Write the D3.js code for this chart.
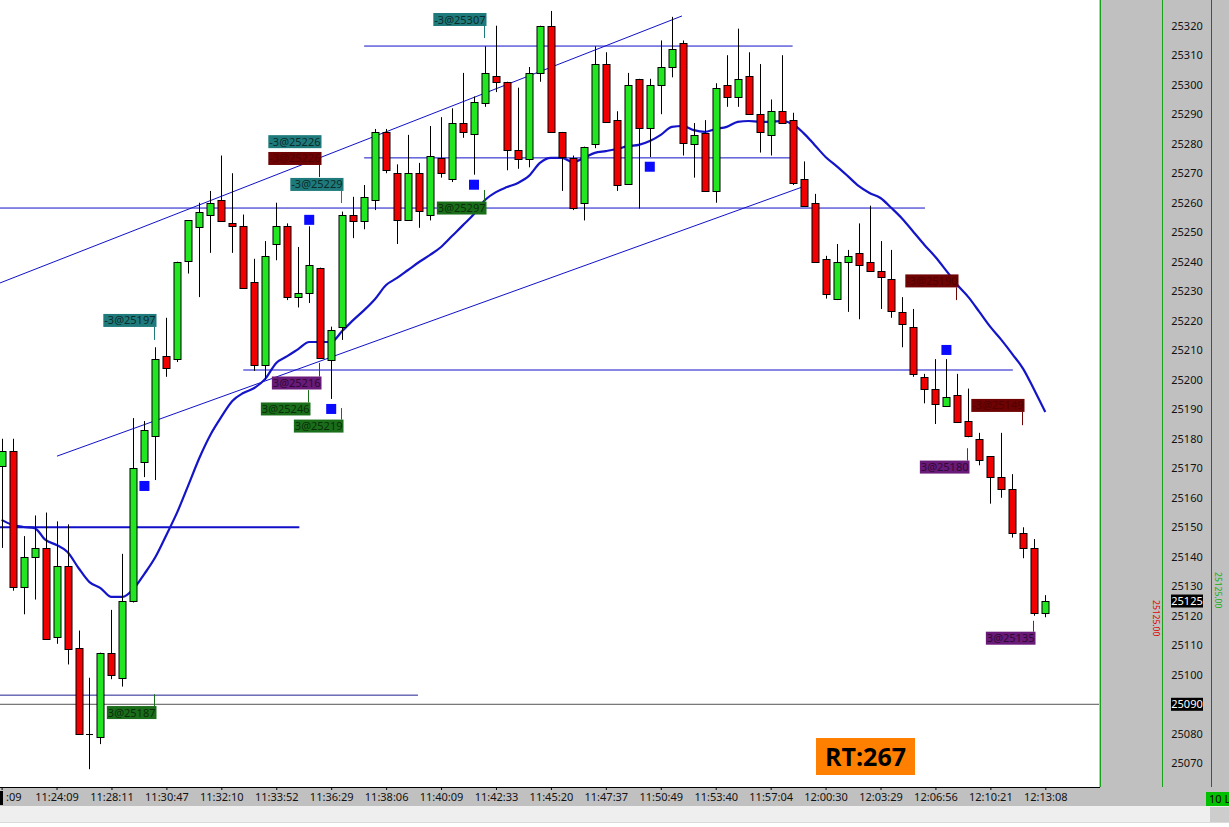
<!DOCTYPE html>
<html><head><meta charset="utf-8">
<script src="https://cdn.jsdelivr.net/npm/d3@7"></script>
<style>
html,body{margin:0;padding:0;background:#fff;overflow:hidden}
svg{display:block}
text{font-family:"Noto Sans","Liberation Sans",sans-serif}
</style></head><body>
<svg id="c" width="1229" height="827"></svg>
<script>
// ---------- DATA ----------
const timeLabels = ["11:22:09","11:24:09","11:28:11","11:30:47","11:32:10","11:33:52","11:36:29","11:38:06","11:40:09","11:42:33","11:45:20","11:47:37","11:50:49","11:53:40","11:57:04","12:00:30","12:03:29","12:06:56","12:10:21","12:13:08"];
const opens  = [25171,25176,25130,25140,25143,25113,25137,25109,25080,25079,25107.5,25099,25125,25172,25181,25208,25207,25240,25252,25256,25261,25253,25252,25233,25205,25246,25252,25228,25229.5,25238,25207,25218,25256,25254,25261,25284,25270,25254,25270,25256,25275,25268,25287,25283,25294,25303,25301,25278,25275,25304,25320,25284,25275,25260,25280,25307,25288,25266.5,25302,25285.5,25300,25306,25314,25280,25283.5,25264,25300,25296,25303,25290,25283,25291,25288,25268,25260,25241,25227.5,25240,25243,25240,25237,25234,25223,25218,25201,25197,25191,25195,25186,25180,25174,25167,25163,25148,25143,25121];
const highs  = [25180,25180,25147,25154,25155,25152,25151,25115,25099,25107.5,25122,25141,25187,25186,25211,25221,25240,25254,25260,25264,25276,25270,25256,25241,25247,25260,25253,25245,25252,25238,25218,25257,25262,25266,25285,25285,25273,25283,25273.5,25286,25289,25292,25304,25296,25313,25320,25301,25299,25306,25320,25325,25284,25276,25279,25313,25311,25291,25304,25302,25302,25315,25323,25315,25287,25288,25300.5,25310,25319,25311,25307,25295,25310,25290.5,25274,25263,25242,25246,25244,25253,25259,25247,25244,25228,25224,25202,25207,25207,25202,25197,25182,25174,25182,25168,25150,25146,25127];
const lows   = [25143,25128.5,25120.5,25125.5,25112,25110.5,25103.5,25080,25068,25076.5,25098.5,25096,25124.5,25167,25166,25201,25206,25236,25228,25243,25254,25243,25231,25203,25200,25240.5,25227,25224.5,25226,25207.5,25193.5,25213.5,25248,25251,25257.5,25270,25246,25254,25251.5,25254,25268.5,25267,25282,25269.5,25292.5,25297.5,25271,25271.5,25272,25301,25284,25264,25257.5,25254,25278.5,25287.5,25264,25266.5,25258,25275.5,25290,25302.5,25276,25268.5,25264,25260,25292.5,25292.5,25290,25277,25276,25287,25266,25259,25240,25227.5,25227,25223,25220.5,25236.5,25224,25221,25211,25201,25192,25185,25191,25186,25180.5,25171,25158,25160,25146.5,25139.5,25120,25119.5];
const closes = [25176,25130,25140,25143,25112,25137,25109,25080,25080,25107.5,25100,25125,25170,25183,25207,25204,25240,25254,25257,25260,25254,25252,25231,25205,25242,25252,25228,25229.5,25239,25207.5,25217,25256,25254,25262,25284,25271,25254,25270,25257,25276,25270,25287,25284,25294,25304,25301,25278,25275,25304,25320,25284,25275.5,25258,25279,25307,25287.5,25266,25300,25285.5,25300,25306,25312,25280,25283,25264,25299,25296,25302,25290,25284,25291,25287,25266.7,25259,25240,25229,25240,25242,25239,25237,25235,25223,25219,25202,25197,25192,25194,25186,25181,25173,25167,25163,25148,25143,25121,25125];
const maValues = [25152.5,25150.8,25150.1,25149.7,25145.7,25144.0,25141.6,25136.2,25131.4,25129.4,25126.4,25126.4,25129.1,25134.2,25139.9,25147.4,25155.2,25164.3,25173.5,25181.3,25187.4,25192.8,25195.5,25197.2,25200.3,25205.7,25208.0,25210.4,25212.8,25212.8,25212.8,25216.5,25220.2,25223.6,25227.4,25232.1,25234.5,25237.2,25239.9,25242.3,25245.0,25248.7,25252.4,25256.2,25260.9,25263.6,25265.3,25266.7,25269.1,25273.5,25275.2,25275.2,25273.8,25275.2,25276.9,25277.5,25278.2,25279.2,25279.6,25280.9,25283.0,25285.7,25286.0,25284.6,25284.0,25285.0,25285.7,25287.4,25287.7,25287.4,25287.4,25287.7,25286.7,25283.6,25279.6,25275.5,25272.4,25269.1,25265.7,25263.3,25261.6,25258.2,25254.5,25250.1,25245.7,25241.6,25236.9,25232.1,25228.0,25223.0,25217.9,25213.5,25208.7,25203.6,25196.5,25189.1];
const priceTicks = d3.range(25070, 25321, 10);
const lastPrice = 25125;
const refPrice = 25090;

// horizontal levels: price, start bar, end bar
const levelPrices = [25313.1, 25275.2, 25258.2, 25203.3, 25150, 25093.1];
const levelFrom   = [33, 33, -0.2, 22, -0.2, -0.2];
const levelTo     = [72, 72, 84.05, 92.05, 27.1, 37.9];
// trend lines: [bar, price] endpoints
const trendA = [[-0.15, 25232.8], [61.93, 25323.3]];
const trendB = [[5.04, 25174.1], [72.86, 25265.3]];

// signal squares
const markerBars   = [13, 28, 30, 43, 59, 86];
const markerPrices = [25164.0, 25254.2, 25190.1, 25266.1, 25272.2, 25210.1];

// trade labels
const tradeTexts  = ["-3@25307","-3@25226","-3@25226","-3@25229","3@25297","-3@25197","3@25216","3@25246","3@25219","3@25187","-3@25190","-3@25149","3@25180","3@25135"];
const tradeKinds  = ["sell","sell","stop","sell","buy","sell","cover","buy","buy","buy","stop","stop","cover","cover"];
const tradeBars   = [44, 29, 29, 31, 44, 14, 29, 28, 31, 14, 87, 93, 88, 94];
const tradeBoxPx  = [25322.1, 25280.7, 25275.0, 25266.2, 25258.2, 25220.1, 25198.9, 25190.1, 25184.3, 25087.2, 25233.5, 25191.3, 25170.4, 25112.4];
const tradeTipPx  = [25315.8, null, 25268.7, 25259.9, 25264.3, 25213.5, 25205.7, 25196.5, 25190.4, 25093.4, 25227.0, 25184.6, 25176.8, 25118.3];

// ---------- DRAW ----------
const W = 1229, H = 827, plotR = 1099, plotB = 787;
const svg = d3.select("#c");
const x = d3.scaleLinear().domain([0, 95]).range([1.6, 1045.3]);
const y = d3.scaleLinear().domain([25070, 25320]).range([763.3, 25.7]);

svg.append("rect").attr("width", W).attr("height", H).attr("fill", "#ffffff");
svg.append("defs").append("clipPath").attr("id", "pc")
  .append("rect").attr("x", 0).attr("y", 0).attr("width", plotR).attr("height", plotB);

const g = svg.append("g").attr("clip-path", "url(#pc)");

// reference line across the chart
g.append("line").attr("x1", 0).attr("x2", plotR).attr("y1", y(refPrice)).attr("y2", y(refPrice))
  .attr("stroke", "#555").attr("stroke-width", 1);

// levels
levelPrices.forEach((p, k) => {
  g.append("line")
    .attr("x1", Math.max(0, x(levelFrom[k]))).attr("x2", x(levelTo[k]))
    .attr("y1", y(p)).attr("y2", y(p))
    .attr("stroke", k === 5 ? "#202090" : "#1010c8")
    .attr("stroke-width", k === 4 ? 2 : 1);
});
// trend lines
[trendA, trendB].forEach(t => {
  g.append("line").attr("x1", x(t[0][0])).attr("y1", y(t[0][1]))
    .attr("x2", x(t[1][0])).attr("y2", y(t[1][1]))
    .attr("stroke", "#1010c8").attr("stroke-width", 1);
});

// moving average
g.append("path").datum(maValues)
  .attr("d", d3.line().x((d, i) => x(i)).y(d => y(d)).curve(d3.curveMonotoneX))
  .attr("fill", "none").attr("stroke", "#1414c8").attr("stroke-width", 2.2);

// candles
const bars = d3.range(opens.length);
const cg = g.append("g");
cg.selectAll("line.wick").data(bars).join("line").attr("class", "wick")
  .attr("x1", i => Math.round(x(i)) + 0.5).attr("x2", i => Math.round(x(i)) + 0.5)
  .attr("y1", i => y(highs[i])).attr("y2", i => y(lows[i]))
  .attr("stroke", "#000").attr("stroke-width", 1);
cg.selectAll("rect.body").data(bars.filter(i => Math.abs(opens[i] - closes[i]) > 0.3)).join("rect")
  .attr("class", "body")
  .attr("x", i => Math.round(x(i)) - 3)
  .attr("width", 7)
  .attr("y", i => Math.round(y(Math.max(opens[i], closes[i]))) + 0.5)
  .attr("height", i => Math.max(1, Math.round(Math.abs(y(opens[i]) - y(closes[i])))))
  .attr("fill", i => closes[i] >= opens[i] ? "#22e622" : "#f00000")
  .attr("stroke", "#000").attr("stroke-width", 1);
cg.selectAll("line.doji").data(bars.filter(i => Math.abs(opens[i] - closes[i]) <= 0.3)).join("line")
  .attr("class", "doji")
  .attr("x1", i => Math.round(x(i)) - 3).attr("x2", i => Math.round(x(i)) + 4)
  .attr("y1", i => Math.round(y(closes[i])) + 0.5).attr("y2", i => Math.round(y(closes[i])) + 0.5)
  .attr("stroke", "#000");

// markers
g.selectAll("rect.mk").data(markerBars).join("rect").attr("class", "mk")
  .attr("x", (b) => x(b) - 5).attr("y", (b, k) => y(markerPrices[k]) - 5)
  .attr("width", 10).attr("height", 10).attr("fill", "#0a0aff");

// trade labels
const kindFill = {sell: "#1f7b7b", stop: "#6e0303", buy: "#1a6e1a", cover: "#6a1a78"};
const kindText = {sell: "#0b2b2b", stop: "#520000", buy: "#0a2e0a", cover: "#2e0a36"};
const kindLine = {sell: "#1f7b7b", stop: "#6e0303", buy: "#1a6e1a", cover: "#6a1a78"};
tradeTexts.forEach((t, k) => {
  const kind = tradeKinds[k];
  const ax = Math.round(x(tradeBars[k])) + 0.5;
  const cy = y(tradeBoxPx[k]);
  const lg = g.append("g");
  if (tradeTipPx[k] !== null) {
    const ty = y(tradeTipPx[k]);
    lg.append("line").attr("x1", ax - 1).attr("x2", ax - 1)
      .attr("y1", ty).attr("y2", ty < cy ? cy - 6.5 : cy + 6.5)
      .attr("stroke", kindLine[kind]).attr("stroke-width", 1);
  }
  const tx = lg.append("text").text(t).attr("font-size", 11).attr("fill", kindText[kind])
    .attr("text-anchor", "end").attr("x", ax).attr("y", cy + 4);
  const w = tx.node().getComputedTextLength();
  lg.insert("rect", "text").attr("x", ax + 1 - w - 2).attr("y", cy - 6.5)
    .attr("width", w + 2).attr("height", 13).attr("fill", kindFill[kind]);
});

// RT box
svg.append("rect").attr("x", 816).attr("y", 738).attr("width", 99).attr("height", 37).attr("fill", "#ff8000");
svg.append("text").attr("x", 865.5).attr("y", 766).attr("text-anchor", "middle")
  .attr("font-size", 25).attr("font-weight", "bold").attr("fill", "#000")
  .style("font-family", "'Open Sans','Noto Sans',sans-serif").text("RT:267");

// right price panel
svg.append("rect").attr("x", plotR).attr("y", 0).attr("width", W - plotR).attr("height", plotB).attr("fill", "#c0c0c0");
svg.append("line").attr("x1", 1100.5).attr("x2", 1100.5).attr("y1", 0).attr("y2", plotB).attr("stroke", "#1aa01a");
svg.append("line").attr("x1", 1162.5).attr("x2", 1162.5).attr("y1", 0).attr("y2", plotB).attr("stroke", "#1aa01a");
svg.append("line").attr("x1", 1211.5).attr("x2", 1211.5).attr("y1", 0).attr("y2", plotB).attr("stroke", "#e01010");

const yAxis = d3.axisRight(y).tickValues(priceTicks).tickSize(0).tickPadding(0).tickFormat(d3.format("d"));
const ya = svg.append("g").attr("transform", "translate(1187,0)").call(yAxis);
ya.select(".domain").remove();
ya.selectAll("text").attr("x", 0).attr("text-anchor", "middle").attr("font-size", 11)
  .attr("fill", "#111").style("font-family", "'Noto Sans',sans-serif");

[lastPrice, refPrice].forEach(p => {
  svg.append("rect").attr("x", 1171).attr("y", y(p) - 6.5).attr("width", 32).attr("height", 13).attr("fill", "#000");
  svg.append("text").attr("x", 1187).attr("y", y(p) + 4).attr("text-anchor", "middle")
    .attr("font-size", 11).attr("fill", "#fff").text(d3.format("d")(p));
});
// tiny vertical tags
svg.append("text").attr("transform", `translate(1153,${y(lastPrice) - 1}) rotate(90)`)
  .attr("font-size", 8.5).attr("fill", "#e00000").text("25125.00");
svg.append("text").attr("transform", `translate(1215,${y(lastPrice) - 29}) rotate(90)`)
  .attr("font-size", 8.5).attr("fill", "#10b010").text("25125.00");

// bottom time axis
svg.append("rect").attr("x", 0).attr("y", plotB).attr("width", W).attr("height", 19).attr("fill", "#c0c0c0");
svg.append("rect").attr("x", 0).attr("y", 806).attr("width", W).attr("height", 17).attr("fill", "#efefef");
svg.append("rect").attr("x", 1210).attr("y", 807).attr("width", 19).attr("height", 15).attr("fill", "#cdcdcd");
svg.append("line").attr("x1", 0).attr("x2", W).attr("y1", 822.5).attr("y2", 822.5).attr("stroke", "#dadada");
svg.append("line").attr("x1", 0).attr("x2", 1100).attr("y1", plotB + 0.5).attr("y2", plotB + 0.5).attr("stroke", "#000");

const xAxis = d3.axisBottom(x).tickValues(d3.range(0, 96, 5)).tickSize(3).tickPadding(3)
  .tickFormat(i => timeLabels[i / 5]);
const xa = svg.append("g").attr("transform", `translate(0,${plotB})`).call(xAxis);
xa.select(".domain").remove();
xa.selectAll("line").attr("stroke", "#000");
xa.selectAll("text").attr("font-size", 11).attr("fill", "#111").style("font-family", "'Noto Sans',sans-serif");
// first label is only partly visible at the left edge in the original: show its visible tail
xa.selectAll("text").filter(i => i === 0)
  .text(timeLabels[0].slice(-3)).attr("text-anchor", "start").attr("x", 4);

svg.append("rect").attr("x", 0).attr("y", 791).attr("width", 3).attr("height", 14).attr("fill", "#000");
svg.append("rect").attr("x", 1206).attr("y", 792).attr("width", 23).attr("height", 14).attr("fill", "#00c000");
svg.append("text").attr("x", 1209).attr("y", 803).attr("font-size", 11).attr("fill", "#000").text("10 L");
</script>
</body></html>
